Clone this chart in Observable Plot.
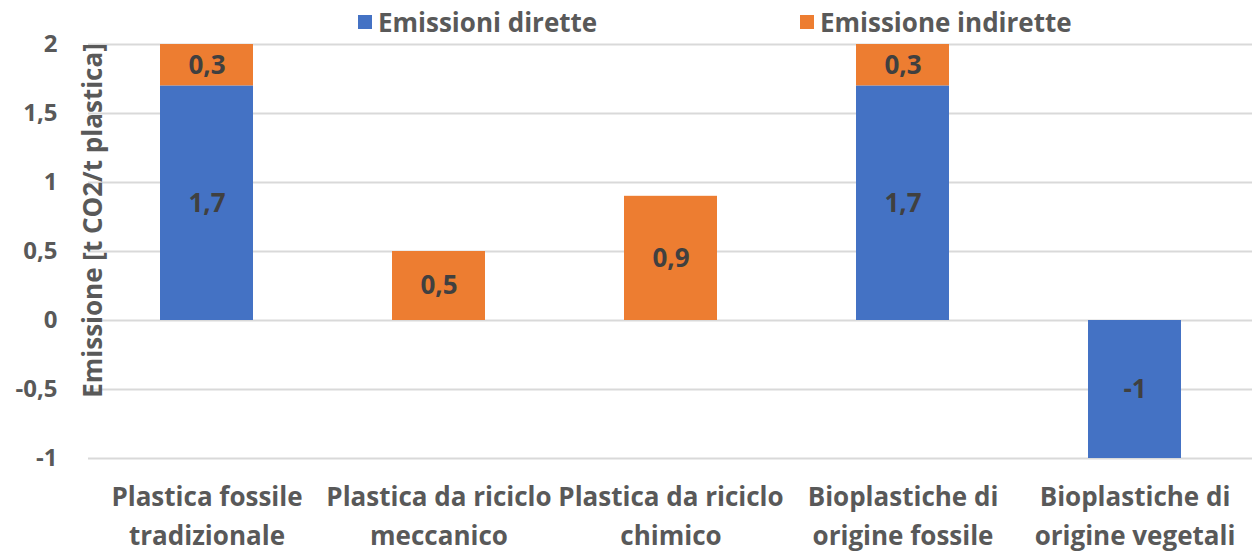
<!DOCTYPE html>
<html>
<head>
<meta charset="utf-8">
<script src="https://cdn.jsdelivr.net/npm/d3@7"></script>
<script src="https://cdn.jsdelivr.net/npm/@observablehq/plot@0.6"></script>
<style>
  html, body { margin: 0; padding: 0; background: #fff; }
  #wrap { position: relative; width: 1252px; height: 553px; font-family: "Open Sans", sans-serif; }
  .leg { position: absolute; top: 4px; display: flex; align-items: center; font-weight: 700; font-size: 26px; color: #595959; line-height: 36px; }
  .sw { width: 14px; height: 14px; margin-right: 6px; }
</style>
</head>
<body>
<div id="wrap"></div>
<script>
const categories = ["Plastica fossile\ntradizionale", "Plastica da riciclo\nmeccanico", "Plastica da riciclo\nchimico", "Bioplastiche di\norigine fossile", "Bioplastiche di\norigine vegetali"];
const direct = [1.7, 0, 0, 1.7, -1];
const indirect = [0.3, 0.5, 0.9, 0.3, 0];
const seriesNames = ["Emissioni dirette", "Emissione indirette"];
const colors = ["#4472C4", "#ED7D31"];
const yTicks = [-1, -0.5, 0, 0.5, 1, 1.5, 2];
const yLabel = "Emissione [t CO2/t plastica]";

const rows = [];
categories.forEach((c, i) => {
  rows.push({cat: c, series: seriesNames[0], value: direct[i]});
  rows.push({cat: c, series: seriesNames[1], value: indirect[i]});
});
const fmt = d => String(d).replace(".", ",");
const nonzero = rows.filter(d => d.value !== 0);

const chart = Plot.plot({
  width: 1252,
  height: 553,
  marginLeft: 88,
  marginRight: 0,
  marginTop: 44,
  marginBottom: 95,
  style: {fontFamily: "'Open Sans', sans-serif", fontWeight: 700, fontSize: "24px", color: "#595959", background: "#fff"},
  x: {domain: categories, paddingInner: 0.6, paddingOuter: 0.3, label: null},
  y: {domain: [-1, 2], ticks: yTicks, label: null},
  color: {domain: seriesNames, range: colors},
  marks: [
    Plot.gridY(yTicks, {stroke: "#d9d9d9", strokeOpacity: 1, strokeWidth: 2}),
    Plot.barY(rows, Plot.stackY({x: "cat", y: "value", fill: "series", order: seriesNames})),
    Plot.text(nonzero, Plot.stackY({x: "cat", y: "value", z: "series", order: seriesNames, text: d => fmt(d.value), fill: "#404040", fontSize: 26, fontWeight: 700})),
    Plot.axisY({ticks: yTicks, tickSize: 0, tickPadding: 31, tickFormat: fmt, fontSize: 24, fill: "#595959"}),
    Plot.axisX({tickSize: 0, tickPadding: 20, fontSize: 26, lineHeight: 1.5, fill: "#595959"}),
    Plot.text([yLabel], {frameAnchor: "left", textAnchor: "middle", rotate: -90, dx: 5, dy: -31, fontSize: 26, fontWeight: 700, fill: "#595959"})
  ]
});
const wrap = document.getElementById("wrap");
wrap.appendChild(chart);

const legLefts = [358, 800];
seriesNames.forEach((s, i) => {
  const d = document.createElement("div");
  d.className = "leg";
  d.style.left = legLefts[i] + "px";
  d.innerHTML = `<div class="sw" style="background:${colors[i]}"></div><span>${s}</span>`;
  wrap.appendChild(d);
});
</script>
</body>
</html>
